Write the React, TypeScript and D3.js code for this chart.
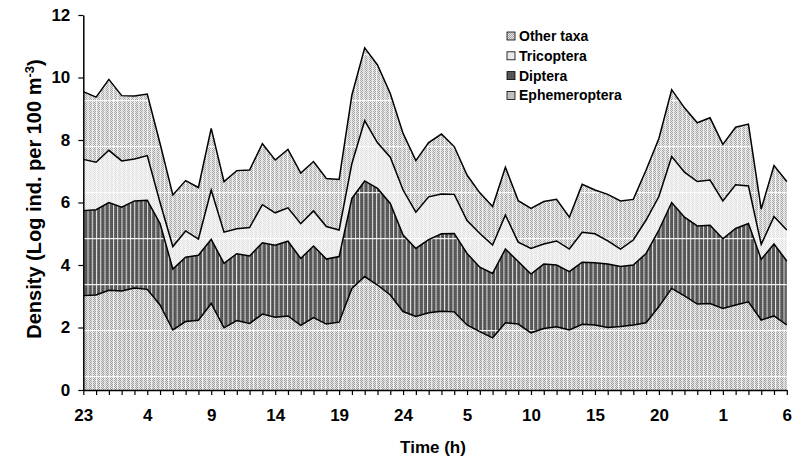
import React, { useEffect, useRef } from 'react';
import * as d3 from 'd3';

// hour of day for each sample (two nights, 23h to 6h)
const hours = [
  23, 24, 1, 2, 3, 4, 5, 6, 7, 8, 9, 10, 11, 12, 13, 14, 15, 16, 17, 18, 19, 20, 21, 22, 23, 24,
  1, 2, 3, 4, 5, 6, 7, 8, 9, 10, 11, 12, 13, 14, 15, 16, 17, 18, 19, 20, 21, 22, 23, 24,
  1, 2, 3, 4, 5, 6,
];

const ephemeroptera = [
  3.02, 3.04, 3.19, 3.17, 3.26, 3.22, 2.72, 1.92, 2.19, 2.23, 2.77, 1.99, 2.22, 2.13, 2.43, 2.33,
  2.37, 2.07, 2.32, 2.11, 2.17, 3.25, 3.63, 3.36, 3.04, 2.51, 2.35, 2.47, 2.52, 2.5, 2.08, 1.87,
  1.67, 2.15, 2.11, 1.83, 1.97, 2.02, 1.92, 2.1, 2.08, 2.0, 2.03, 2.08, 2.15, 2.67, 3.25, 3.01,
  2.75, 2.77, 2.61, 2.72, 2.82, 2.24, 2.37, 2.08,
];

const diptera = [
  2.72, 2.73, 2.81, 2.68, 2.79, 2.85, 2.61, 1.95, 2.06, 2.08, 2.05, 2.06, 2.14, 2.16, 2.28, 2.3,
  2.39, 2.14, 2.29, 2.08, 2.1, 2.88, 3.06, 3.09, 2.93, 2.45, 2.18, 2.34, 2.48, 2.51, 2.29, 2.06,
  2.06, 2.36, 2.0, 1.88, 2.06, 1.98, 1.87, 1.99, 1.99, 2.03, 1.92, 1.92, 2.22, 2.45, 2.75, 2.52,
  2.5, 2.5, 2.23, 2.45, 2.51, 1.94, 2.3, 2.05,
];

const tricoptera = [
  1.64, 1.52, 1.67, 1.48, 1.34, 1.43, 0.67, 0.72, 0.84, 0.52, 1.58, 1.0, 0.8, 0.91, 1.22, 1.04,
  1.07, 1.11, 1.12, 1.04, 0.85, 1.12, 1.93, 1.46, 1.48, 1.44, 1.16, 1.37, 1.27, 1.25, 1.05, 1.08,
  0.91, 1.09, 0.62, 0.82, 0.64, 0.77, 0.72, 0.96, 0.93, 0.74, 0.56, 0.8, 1.07, 1.07, 1.47, 1.44,
  1.42, 1.45, 1.21, 1.4, 1.2, 0.48, 0.88, 0.99,
];

const otherTaxa = [
  2.17, 2.08, 2.27, 2.09, 2.02, 1.97, 1.89, 1.65, 1.61, 1.65, 1.97, 1.62, 1.86, 1.84, 1.95, 1.69,
  1.87, 1.62, 1.58, 1.54, 1.62, 2.19, 2.33, 2.49, 2.04, 1.81, 1.65, 1.74, 1.92, 1.53, 1.46, 1.3,
  1.23, 1.53, 1.33, 1.28, 1.36, 1.33, 1.02, 1.53, 1.4, 1.49, 1.54, 1.3, 1.6, 1.86, 2.14, 2.06,
  1.88, 1.99, 1.81, 1.84, 1.98, 1.13, 1.63, 1.55,
];

const yTicks = [0, 2, 4, 6, 8, 10, 12];
const seriesKeys = ['eph', 'dip', 'tri', 'other'];
const legendItems = [
  { key: 'other', label: 'Other taxa' },
  { key: 'tri', label: 'Tricoptera' },
  { key: 'dip', label: 'Diptera' },
  { key: 'eph', label: 'Ephemeroptera' },
];

const FONT = '"Liberation Sans", Arial, sans-serif';

function DensityChart() {
  const svgRef = useRef<SVGSVGElement>(null);

  useEffect(() => {
    const width = 792;
    const height = 466;
    const margin = { top: 15, right: 5.2, bottom: 76, left: 83.3 };

    const svg = d3.select(svgRef.current);
    svg.selectAll('g.chart').remove();
    const g = svg.append('g').attr('class', 'chart');

    const table = hours.map((h, i) => ({
      eph: ephemeroptera[i],
      dip: diptera[i],
      tri: tricoptera[i],
      other: otherTaxa[i],
    }));
    const stacked = d3.stack<any>().keys(seriesKeys)(table);

    const x = d3.scaleLinear()
      .domain([0, hours.length - 1])
      .range([margin.left, width - margin.right]);
    const y = d3.scaleLinear()
      .domain([0, 12])
      .range([height - margin.bottom, margin.top]);

    const area = d3.area<any>()
      .x((d, i) => x(i))
      .y0(d => y(d[0]))
      .y1(d => y(d[1]));
    const line = d3.line<any>()
      .x((d, i) => x(i))
      .y(d => y(d[1]));

    // areas: texture, then the white grid artefacts on top
    g.selectAll('path.fill')
      .data(stacked)
      .enter()
      .append('path')
      .attr('class', 'fill')
      .attr('d', area)
      .attr('fill', d => `url(#pat-${d.key})`);

    g.selectAll('path.grid')
      .data(stacked)
      .enter()
      .append('path')
      .attr('class', 'grid')
      .attr('d', area)
      .attr('fill', d => (d.key === 'tri' ? 'url(#grid-soft)' : 'url(#grid)'));

    g.selectAll('path.edge')
      .data(stacked)
      .enter()
      .append('path')
      .attr('class', 'edge')
      .attr('d', line)
      .attr('fill', 'none')
      .attr('stroke', '#000')
      .attr('stroke-width', 1.5)
      .attr('stroke-linejoin', 'miter');

    // Y axis
    const yAxis = g.append('g')
      .attr('transform', `translate(${margin.left},0)`)
      .call(d3.axisLeft(y).tickValues(yTicks).tickSize(5).tickSizeOuter(0).tickPadding(8));

    // X axis
    const xAxis = g.append('g')
      .attr('transform', `translate(0,${height - margin.bottom})`)
      .call(
        d3.axisBottom(x)
          .tickValues(d3.range(hours.length))
          .tickSize(5)
          .tickSizeOuter(0)
          .tickPadding(14)
          .tickFormat((i: any) => (i % 5 === 0 ? String(hours[i]) : ''))
      );

    [yAxis, xAxis].forEach(ax => {
      ax.select('.domain').attr('stroke', '#000').attr('stroke-width', 1.5);
      ax.selectAll('.tick line').attr('stroke', '#000').attr('stroke-width', 1.2);
      ax.selectAll('.tick text')
        .attr('fill', '#000')
        .attr('font-family', FONT)
        .attr('font-weight', 'bold')
        .attr('font-size', '17px');
    });

    // Axis titles
    g.append('text')
      .attr('x', 433)
      .attr('y', 453)
      .attr('text-anchor', 'middle')
      .attr('font-family', FONT)
      .attr('font-weight', 'bold')
      .attr('font-size', '17px')
      .text('Time (h)');

    const yTitle = g.append('text')
      .attr('transform', 'translate(41,199) rotate(-90)')
      .attr('text-anchor', 'middle')
      .attr('font-family', FONT)
      .attr('font-weight', 'bold')
      .attr('font-size', '20px');
    yTitle.append('tspan').text('Density (Log ind. per 100 m');
    yTitle.append('tspan').attr('dy', '-0.55em').attr('font-size', '13px').text('-3');
    yTitle.append('tspan').attr('dy', '0.4em').text(')');

    // Legend
    const legend = g.append('g').attr('transform', 'translate(507,36)');
    const rows = legend.selectAll('g')
      .data(legendItems)
      .enter()
      .append('g')
      .attr('transform', (d, i) => `translate(0,${i * 19.8})`);
    rows.append('rect')
      .attr('x', 0)
      .attr('y', -4)
      .attr('width', 8)
      .attr('height', 8)
      .attr('fill', d => `url(#pat-${d.key})`)
      .attr('stroke', '#000')
      .attr('stroke-width', 0.8);
    rows.append('text')
      .attr('x', 12)
      .attr('dy', '0.36em')
      .attr('font-family', FONT)
      .attr('font-weight', 'bold')
      .attr('font-size', '14px')
      .text(d => d.label);
  }, []);

  return (
    <svg
      ref={svgRef}
      width={792}
      height={466}
      style={{ position: 'absolute', left: 0, top: 0, background: '#fff' }}
    >
      <defs>
        <pattern id="pat-eph" width="2" height="2" patternUnits="userSpaceOnUse">
          <rect width="2" height="2" fill="#e4e4e4" />
          <rect width="1" height="1" fill="#9a9a9a" />
          <rect x="1" y="1" width="1" height="1" fill="#9a9a9a" />
        </pattern>
        <pattern id="pat-other" width="2" height="2" patternUnits="userSpaceOnUse">
          <rect width="2" height="2" fill="#e8e8e8" />
          <rect width="1" height="1" fill="#a2a2a2" />
          <rect x="1" y="1" width="1" height="1" fill="#a2a2a2" />
        </pattern>
        <pattern id="pat-tri" width="2" height="2" patternUnits="userSpaceOnUse">
          <rect width="2" height="2" fill="#f7f7f7" />
          <rect width="1" height="1" fill="#dcdcdc" />
          <rect x="1" y="1" width="1" height="1" fill="#dcdcdc" />
        </pattern>
        <pattern id="pat-dip" width="2" height="2" patternUnits="userSpaceOnUse">
          <rect width="2" height="2" fill="#5a5a5a" />
          <rect width="1" height="1" fill="#4a4a4a" />
        </pattern>
        <pattern id="grid" x="83.3" y="8" width="4.244" height="46" patternUnits="userSpaceOnUse">
          <rect x="0" y="0" width="1" height="46" fill="#fff" opacity="0.85" />
          <rect x="0" y="0" width="4.244" height="1.2" fill="#fff" opacity="0.9" />
        </pattern>
        <pattern id="grid-soft" x="83.3" y="8" width="4.244" height="46" patternUnits="userSpaceOnUse">
          <rect x="0" y="0" width="1" height="46" fill="#fff" opacity="0.6" />
          <rect x="0" y="0" width="4.244" height="1.2" fill="#fff" opacity="0.8" />
        </pattern>
      </defs>
    </svg>
  );
}

export default function App() {
  return <DensityChart />;
}
